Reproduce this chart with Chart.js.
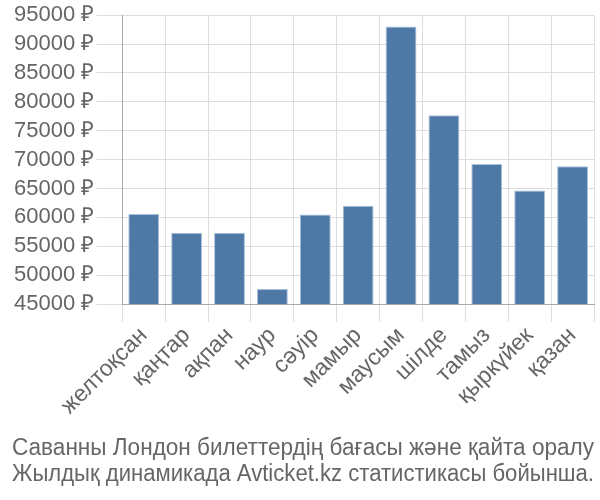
<!DOCTYPE html>
<html>
<head>
<meta charset="utf-8">
<script src="https://cdn.jsdelivr.net/npm/chart.js@4"></script>
<style>
  body { margin: 0; background: #fff; }
  #wrap { width: 600px; height: 500px; }
</style>
</head>
<body>
<div id="wrap"><canvas id="price-chart"></canvas></div>
<script>
const months = ['желтоқсан', 'қаңтар', 'ақпан', 'наур', 'сәуір', 'мамыр', 'маусым', 'шілде', 'тамыз', 'қыркүйек', 'қазан'];
const prices = [60600, 57350, 57350, 47600, 60500, 62000, 93050, 77700, 69250, 64650, 68850];
const titleLines = ['Саванны Лондон билеттердің бағасы және қайта оралу', 'Жылдық динамикада Avticket.kz статистикасы бойынша.'];

const pricechart = document.getElementById('price-chart');

new Chart(pricechart, {
    type: 'bar',
    data: {
        labels: months,
        datasets: [{
            label: '',
            data: prices,
            backgroundColor: '#4e79a7',
            borderColor: '#a9c0d9',
            borderWidth: 1
        }]
    },
    options: {
        responsive: true,
        maintainAspectRatio: false,
        animation: false,
        layout: { padding: { top: 4, right: 6, left: 12, bottom: 12 } },
        plugins: {
            legend: { display: false },
            tooltip: { enabled: false },
            title: {
                display: true,
                position: 'bottom',
                text: titleLines,
                color: '#666',
                font: { family: 'Liberation Sans, Arial, sans-serif', size: 23, weight: 'normal', lineHeight: 1.13 },
                padding: { top: 6, bottom: 0 }
            }
        },
        scales: {
            x: {
                grid: { color: '#ddd', lineWidth: 1, offset: true, tickLength: 18 },
                border: { color: '#aaa' },
                ticks: {
                    autoSkip: false,
                    color: '#666',
                    font: { family: 'Liberation Sans, Arial, sans-serif', size: 23 },
                    padding: 0,
                    maxRotation: 45,
                    minRotation: 45
                },
                afterFit: scale => { scale.height = 126; }
            },
            y: {
                min: 45000,
                max: 95000,
                grid: { color: '#ddd', tickLength: 26 },
                border: { color: '#aaa' },
                ticks: {
                    stepSize: 5000,
                    autoSkip: false,
                    color: '#666',
                    font: { family: 'Liberation Sans, Arial, sans-serif', size: 22 },
                    padding: 2,
                    callback: v => v + ' ₽'
                }
            }
        }
    }
});
</script>
</body>
</html>
